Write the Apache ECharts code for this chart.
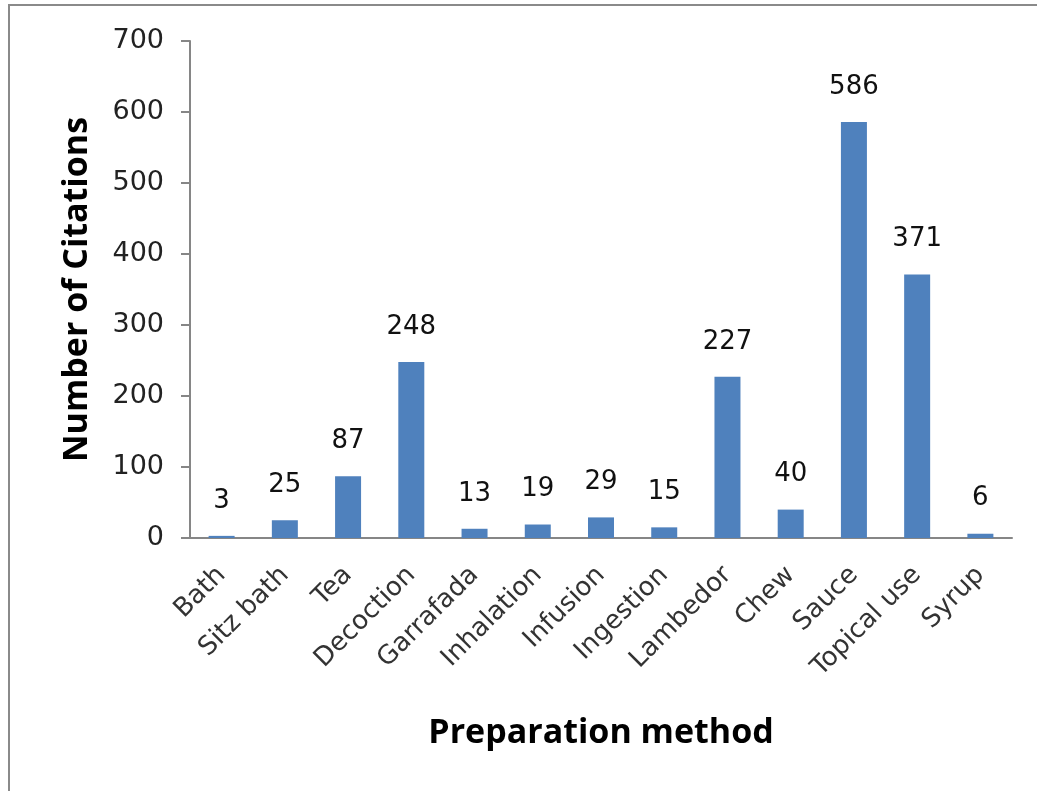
<!DOCTYPE html>
<html>
<head>
<meta charset="utf-8">
<title>Preparation method</title>
<script src="https://cdn.jsdelivr.net/npm/echarts@6/dist/echarts.min.js"></script>
<style>
  html, body { margin: 0; padding: 0; background: #fff; }
  #main { position: absolute; left: 0; top: 0; width: 1037px; height: 791px; }
  /* frame of the original picture, only top and left edges are visible */
  #frame {
    position: absolute; left: 8px; top: 4px; right: -10px; bottom: -10px;
    border-left: 2px solid #8a8a8a; border-top: 2px solid #8a8a8a;
    pointer-events: none;
  }
</style>
</head>
<body>
<div id="main"></div>
<div id="frame"></div>
<script>
// data
const methods = ["Bath", "Sitz bath", "Tea", "Decoction", "Garrafada", "Inhalation",
  "Infusion", "Ingestion", "Lambedor", "Chew", "Sauce", "Topical use", "Syrup"];
const citations = [3, 25, 87, 248, 13, 19, 29, 15, 227, 40, 586, 371, 6];
const yTicks = [0, 100, 200, 300, 400, 500, 600, 700];

const chart = echarts.init(document.getElementById("main"));

const option = {
  animation: false,
  textStyle: { fontFamily: "DejaVu Sans" },
  grid: {
    left: 190,
    right: 25,
    top: 41,
    bottom: 253
  },
  xAxis: {
    type: "category",
    data: methods,
    name: "Preparation method",
    nameLocation: "middle",
    nameGap: 178,
    nameTextStyle: {
      fontFamily: "Open Sans",
      fontWeight: "bold",
      fontSize: 34,
      color: "#000"
    },
    axisLine: { lineStyle: { color: "#868686", width: 2 } },
    axisTick: { show: false },
    axisLabel: {
      rotate: 45,
      interval: 0,
      margin: 33,
      fontSize: 26,
      color: "#333"
    }
  },
  yAxis: {
    type: "value",
    min: yTicks[0],
    max: yTicks[yTicks.length - 1],
    interval: 100,
    name: "Number of Citations",
    nameLocation: "middle",
    nameGap: 96,
    nameRotate: 90,
    nameTextStyle: {
      fontFamily: "Open Sans",
      fontWeight: "bold",
      fontSize: 34,
      color: "#000"
    },
    axisLine: { show: true, lineStyle: { color: "#868686", width: 2 } },
    axisTick: { show: true, length: 9, lineStyle: { color: "#868686", width: 2 } },
    axisLabel: { margin: 26, fontSize: 27, color: "#222" },
    splitLine: { show: false }
  },
  series: [
    {
      type: "bar",
      data: citations,
      barWidth: 26,
      itemStyle: { color: "#4f81bd" },
      label: {
        show: true,
        position: "top",
        distance: 22,
        fontSize: 26,
        color: "#111"
      }
    }
  ]
};

chart.setOption(option);
</script>
</body>
</html>
